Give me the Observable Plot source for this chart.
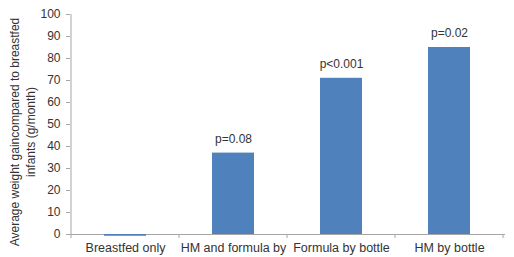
<!DOCTYPE html>
<html>
<head>
<meta charset="utf-8">
<script src="https://cdn.jsdelivr.net/npm/d3@7"></script>
<script src="https://cdn.jsdelivr.net/npm/@observablehq/plot@0.6"></script>
<style>
  html, body { margin: 0; padding: 0; background: #fff; }
  svg { display: block; }
</style>
</head>
<body>
<div id="chart"></div>
<script>
const categories = ["Breastfed only", "HM and formula by", "Formula by bottle", "HM by bottle"];
const values = [-0.8, 37, 71, 85];
const pLabels = ["", "p=0.08", "p<0.001", "p=0.02"];
const yTicks = [0, 10, 20, 30, 40, 50, 60, 70, 80, 90, 100];

const data = categories.map((c, i) => ({category: c, value: values[i], p: pLabels[i]}));

const font = "Liberation Sans, Arial, sans-serif";
const axisColor = "#a6a6a6";

const plot = Plot.plot({
  width: 514,
  height: 257,
  marginLeft: 70,
  marginRight: 9,
  marginTop: 14,
  marginBottom: 23,
  style: {fontFamily: font, fontSize: "12px", color: "#333", background: "#fff"},
  x: {domain: categories, paddingInner: 0.61, paddingOuter: 0.305, label: null},
  y: {domain: [0, 100], label: null},
  marks: [
    Plot.ruleY([0], {stroke: axisColor}),
    Plot.barY(data, {x: "category", y: "value", fill: "#4f81bd"}),
    Plot.text(data.filter(d => d.p), {x: "category", y: "value", text: "p", dy: -14, fill: "#333", fontSize: 12}),
    Plot.axisY({ticks: yTicks, tickSize: 4, tickPadding: 6, stroke: axisColor, fill: "#333", fontSize: 12}),
    Plot.axisX({tickSize: 0, tickPadding: 9, fill: "#333", fontSize: 12.5})
  ]
});

// vertical axis line and category boundary ticks from the x scale
const svg = d3.select(plot);
const xs = plot.scale("x");
const ys = plot.scale("y");
const step = xs.step;
const y0 = ys.apply(0);
const left = xs.apply(categories[0]) - (step - xs.bandwidth) / 2;
svg.append("line")
  .attr("x1", left).attr("x2", left)
  .attr("y1", ys.apply(100)).attr("y2", y0)
  .attr("stroke", axisColor);
const bounds = d3.range(categories.length + 1).map(i => left + i * step);
svg.selectAll("line.bt").data(bounds).join("line")
  .attr("class", "bt")
  .attr("x1", d => d).attr("x2", d => d)
  .attr("y1", y0).attr("y2", y0 + 4)
  .attr("stroke", axisColor);

document.getElementById("chart").appendChild(plot);

// y axis title (two lines)
const titleLines = ["Average weight gaincompared to breastfed", "infants (g/month)"];
const cy = 132;
svg.append("text")
  .attr("transform", `translate(0,${cy}) rotate(-90)`)
  .attr("text-anchor", "middle")
  .attr("font-family", font)
  .attr("font-size", 12)
  .attr("fill", "#333")
  .selectAll("tspan").data(titleLines).join("tspan")
  .attr("x", 0)
  .attr("y", (d, i) => 19 + i * 16)
  .text(d => d);
</script>
</body>
</html>
